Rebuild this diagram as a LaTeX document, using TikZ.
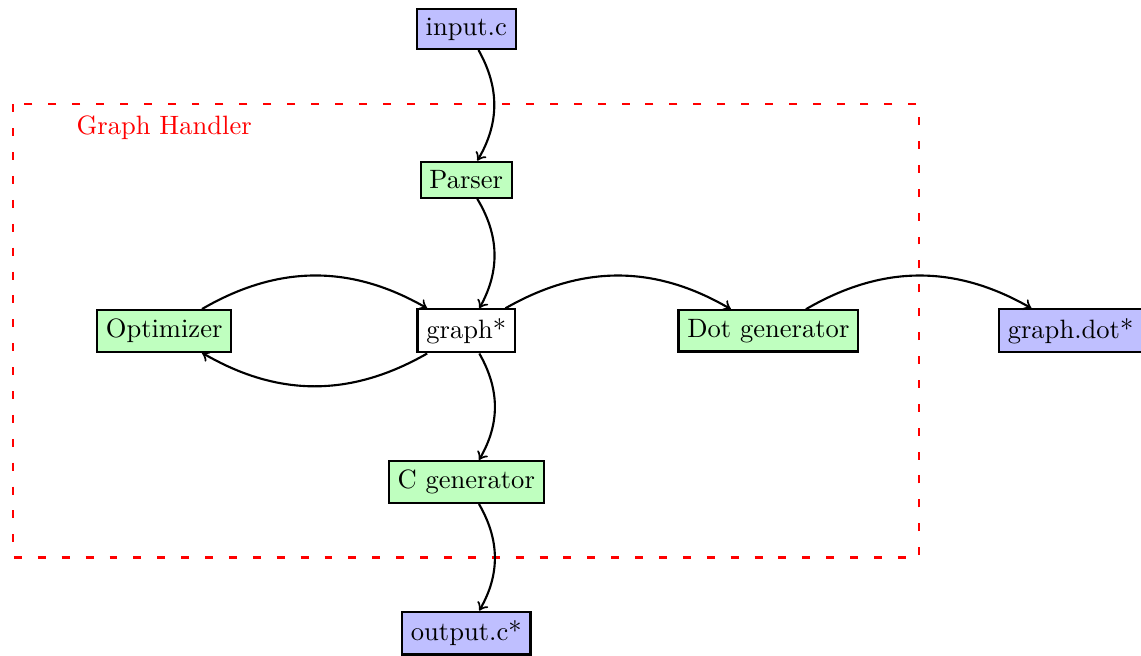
\documentclass[tikz,border=0pt]{standalone}
\usetikzlibrary{positioning,arrows.meta}

\tikzset{every picture/.style={line width=0.75pt}}
\tikzset{
	filebox/.style={draw, thick, fill={rgb, 255:red, 191; green, 191; blue, 255 }},
	stagebox/.style={draw, thick, fill={rgb, 255:red, 191; green, 255; blue, 191 }},
	databox/.style={draw, thick, fill=white},
	flow/.style={-{Classical TikZ Rightarrow[length=3pt,width=4.6pt]}, thick, bend right=30}
}

\begin{document}
\begin{tikzpicture}[x=0.75pt,y=0.75pt,yscale=-1,xscale=1]
		%set diagram left start at 0, and has height of 329
		\useasboundingbox (0,0) rectangle (573.1,329);

		%Shape: Rectangle [id:handler]
		\draw [color={rgb, 255:red, 255; green, 0; blue, 0 }, thick, loosely dashed] (6.6,52.4) rectangle (461.8,280) ;

		% Text Node
		\draw (82.45,64) node [color={rgb, 255:red, 255; green, 0; blue, 0 }] (handler) {Graph Handler};

		% Text Node
		\draw (234.2,14.5) node [filebox] (input) {input.c};
		% Text Node
		\draw (234.2,90.3) node [stagebox] (parser) {Parser};
		% Text Node
		\draw (234.2,166.2) node [databox] (graph) {graph*};
		% Text Node
		\draw (82.45,166.2) node [stagebox] (optimizer) {Optimizer};
		% Text Node
		\draw (385.95,166.2) node [stagebox] (dotgen) {Dot generator};
		% Text Node
		\draw (537.7,166.2) node [filebox] (dotfile) {graph.dot*};
		% Text Node
		\draw (234.2,242.1) node [stagebox] (cgen) {C generator};
		% Text Node
		\draw (234.2,318) node [filebox] (output) {output.c*};

		%Curve Lines
		\draw [flow] (input) to (parser) ;
		\draw [flow] (parser) to (graph) ;
		\draw [flow] (optimizer) to (graph) ;
		\draw [flow] (graph) to (optimizer) ;
		\draw [flow] (graph) to (dotgen) ;
		\draw [flow] (dotgen) to (dotfile) ;
		\draw [flow] (graph) to (cgen) ;
		\draw [flow] (cgen) to (output) ;

	\end{tikzpicture}
\end{document}
